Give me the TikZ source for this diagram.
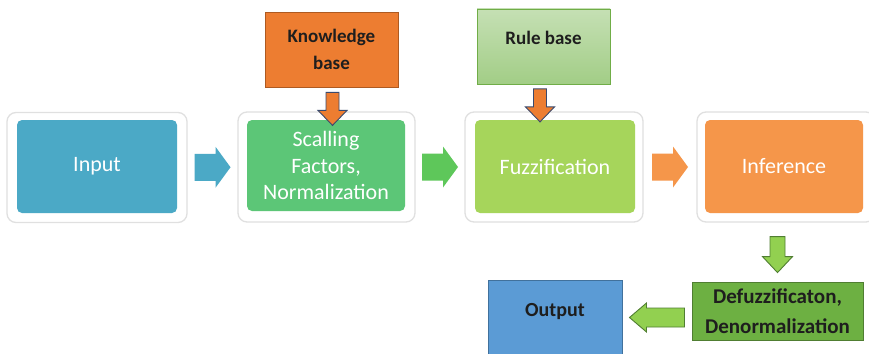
\documentclass[tikz,border=0pt]{standalone}
\usepackage{fontspec}
\setmainfont{Carlito}
\usetikzlibrary{calc}
\definecolor{cInput}{HTML}{4BA9C6}
\definecolor{cScale}{HTML}{5CC677}
\definecolor{cFuzz}{HTML}{A6D55B}
\definecolor{cInf}{HTML}{F5964A}
\definecolor{cKB}{HTML}{ED7D31}
\definecolor{cKBd}{HTML}{AE5A21}
\definecolor{cRuleT}{HTML}{C5E0B4}
\definecolor{cRuleB}{HTML}{A2CD86}
\definecolor{cRuleD}{HTML}{70AD47}
\definecolor{cOut}{HTML}{5B9BD5}
\definecolor{cOutD}{HTML}{41719C}
\definecolor{cDef}{HTML}{6DB042}
\definecolor{cDefD}{HTML}{507E32}
\definecolor{cGArrow}{HTML}{5EC75A}
\definecolor{cLGreen}{HTML}{92D050}
\definecolor{cNavy}{HTML}{3A4A6E}
\definecolor{cText}{HTML}{1E1E1E}
\tikzset{
  frame/.style={draw=black!12, line width=1.3pt, fill=white, rounded corners=9pt,
    inner sep=0pt, minimum width=#1, minimum height=110pt},
  mainbox/.style={fill=#1, rounded corners=5pt, inner sep=0pt, text=white,
    font=\fontsize{22}{26.5}\selectfont, align=center, minimum height=93pt},
  smallbox/.style={inner sep=0pt, text=cText, align=center,
    font=\bfseries\fontsize{19}{27}\selectfont},
  rightarrow/.pic={\path[pic actions] (-18,-13.5) -- (3,-13.5) -- (3,-20.5) -- (18,0)
    -- (3,20.5) -- (3,13.5) -- (-18,13.5) -- cycle;},
  downarrowA/.pic={\path[pic actions] (-6.5,-16.5) -- (6.5,-16.5) -- (6.5,1.5) -- (14.5,1.5)
    -- (0,16.5) -- (-14.5,1.5) -- (-6.5,1.5) -- cycle;},
  downarrowB/.pic={\path[pic actions] (-7.5,-18) -- (7.5,-18) -- (7.5,2) -- (15,2)
    -- (0,18) -- (-15,2) -- (-7.5,2) -- cycle;},
  leftarrow/.pic={\path[pic actions] (27.5,-9.5) -- (-10.5,-9.5) -- (-10.5,-14.5) -- (-27.5,0)
    -- (-10.5,14.5) -- (-10.5,9.5) -- (27.5,9.5) -- cycle;}
}
\begin{document}
\begin{tikzpicture}[x=1pt,y=-1pt]
\clip (0,0) rectangle (869,353);
\fill[white] (0,0) rectangle (869,353);

% frames
\node[frame=180pt] (f1) at (97,167.5) {};
\node[frame=177pt] (f2) at (326.5,167) {};
\node[frame=178pt] (f3) at (554,167) {};
\node[frame=178pt] (f4) at (786,167) {};

% main boxes
\node[mainbox=cInput, minimum width=160pt] (input) at (97,166.5) {Input};
\node[mainbox=cScale, minimum width=158pt, minimum height=91pt] (scale) at (326,165.5)
  {Scalling\\Factors,\\Normalization};
\node[mainbox=cFuzz, minimum width=160pt] (fuzz) at (555,166.5) {Fuzzification};
\node[mainbox=cInf, minimum width=158pt] (inf) at (784,166.5) {Inference};

% top boxes
\node[smallbox, fill=cKB, draw=cKBd, line width=0.8pt, minimum width=133pt,
  minimum height=75pt] (kb) at (331.5,49.5) {Knowledge\\base};
\node[inner sep=0pt, top color=cRuleT, bottom color=cRuleB, draw=cRuleD, line width=0.8pt,
  minimum width=133pt, minimum height=75pt] (rule) at (543.5,46.5) {};
\node[smallbox] (ruletext) at ([yshift=-29pt]rule.north) {Rule base};

% bottom boxes
\node[smallbox, fill=cDef, draw=cDefD, line width=0.8pt, minimum width=171pt,
  minimum height=58pt, font=\bfseries\fontsize{21}{30}\selectfont] (defuzz) at (777.5,311)
  {Defuzzificaton,\\Denormalization};
\node[fill=cOut, draw=cOutD, line width=0.8pt, inner sep=0pt, minimum width=134pt,
  minimum height=90pt, anchor=north] (output) at (555,280) {};
\node[smallbox, font=\bfseries\fontsize{20}{24}\selectfont] (outtext)
  at ([yshift=-32pt]output.north) {Output};

% horizontal block arrows
\pic[fill=cInput] at ($(f1.east)!0.5!(f2.west)$) {rightarrow};
\pic[fill=cGArrow] at ($(f2.east)!0.5!(f3.west)$) {rightarrow};
\pic[fill=cInf] at ($(f3.east)!0.5!(f4.west)$) {rightarrow};

% vertical arrows
\pic[fill=cKB, draw=cNavy, line width=0.9pt] at ($(kb.south)+(1,21.5)$) {downarrowA};
\pic[fill=cKB, draw=cNavy, line width=0.9pt] at ($(rule.south)+(-3.5,21)$) {downarrowA};
\pic[fill=cLGreen, draw=cDefD, line width=0.9pt] at ($(defuzz.north)+(0,-27)$) {downarrowB};
\pic[fill=cLGreen, draw=cDefD, line width=0.9pt]
  at ($(defuzz.west)!0.5!(defuzz.west -| output.east)+(0,6.5)$) {leftarrow};
\end{tikzpicture}
\end{document}
